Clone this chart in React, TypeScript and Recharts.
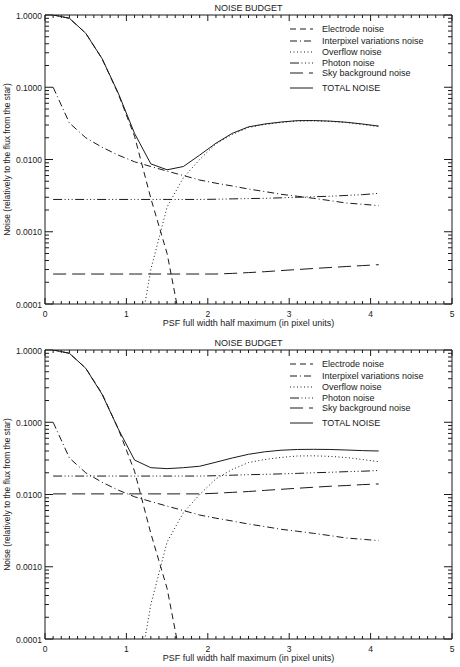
import { LineChart, Line, XAxis, YAxis, Legend } from "recharts";

// PSF full width half maximum, in pixels
const FWHM = [0.1, 0.3, 0.5, 0.7, 0.9, 1.1, 1.3, 1.5, 1.7, 1.9, 2.1, 2.3, 2.5, 2.7, 2.9, 3.1, 3.3, 3.5, 3.7, 3.9, 4.1];

// terms that are the same in both budgets
const ELECTRODE = [1.0, 0.9, 0.56, 0.25, 0.081, 0.021, 0.0029, 0.0005, 0.000034, null, null, null, null, null, null, null, null, null, null, null, null];
const INTERPIXEL = [0.1, 0.032, 0.02, 0.0148, 0.0115, 0.0093, 0.008, 0.0069, 0.006, 0.0052, 0.0047, 0.0043, 0.0039, 0.0036, 0.0033, 0.0031, 0.0029, 0.0027, 0.0025, 0.0024, 0.0023];
const OVERFLOW = [null, null, null, null, null, 0.000015, 0.0003, 0.0022, 0.0056, 0.01, 0.0165, 0.0222, 0.0277, 0.0305, 0.0326, 0.0341, 0.0343, 0.0337, 0.0325, 0.0305, 0.0285];

// upper budget
const PHOTON_A = [0.0028, 0.0028, 0.0028, 0.0028, 0.0028, 0.0028, 0.0028, 0.0028, 0.0028, 0.0028, 0.00282, 0.00285, 0.00288, 0.0029, 0.00295, 0.003, 0.00305, 0.0031, 0.00318, 0.00326, 0.0034];
const SKY_A = [0.00026, 0.00026, 0.00026, 0.00026, 0.00026, 0.00026, 0.00026, 0.00026, 0.00026, 0.00026, 0.00026, 0.000265, 0.000272, 0.00028, 0.00029, 0.0003, 0.00031, 0.00032, 0.00033, 0.00034, 0.00035];
const TOTAL_A = [1.005, 0.9, 0.56, 0.25, 0.083, 0.023, 0.0087, 0.0072, 0.008, 0.0115, 0.0168, 0.023, 0.0283, 0.031, 0.033, 0.0345, 0.0346, 0.034, 0.0328, 0.031, 0.029];

// lower budget
const PHOTON_B = [0.018, 0.018, 0.018, 0.018, 0.018, 0.018, 0.018, 0.018, 0.018, 0.018, 0.0182, 0.0185, 0.0188, 0.019, 0.0193, 0.0196, 0.02, 0.0203, 0.0207, 0.021, 0.0215];
const SKY_B = [0.0102, 0.0102, 0.0102, 0.0102, 0.0102, 0.0102, 0.0102, 0.0102, 0.0102, 0.0102, 0.0104, 0.0107, 0.011, 0.0114, 0.0118, 0.0122, 0.0126, 0.013, 0.0133, 0.0137, 0.014];
const TOTAL_B = [1.005, 0.9, 0.56, 0.245, 0.081, 0.03, 0.0235, 0.0228, 0.0235, 0.0246, 0.028, 0.032, 0.036, 0.039, 0.041, 0.042, 0.0422, 0.042, 0.0413, 0.0405, 0.04];

const X_TICKS = [0, 1, 2, 3, 4, 5];
const Y_TICKS = [0.0001, 0.001, 0.01, 0.1, 1];

const TITLE = "NOISE BUDGET";
const X_LABEL = "PSF full width half maximum (in pixel units)";
const Y_LABEL = "Noise (relatively to the flux from the star)";

const SERIES = [
  { key: "electrode", name: "Electrode noise", dash: "6 4" },
  { key: "interpixel", name: "Interpixel variations noise", dash: "7 3 1 3" },
  { key: "overflow", name: "Overflow noise", dash: "1 2.5" },
  { key: "photon", name: "Photon noise", dash: "9 2.5 1 2.5 1 2.5 1 2.5" },
  { key: "sky", name: "Sky background noise", dash: "13 6" },
  { key: "total", name: "TOTAL NOISE", dash: undefined },
];

const FONT = "'Liberation Sans', Arial, sans-serif";
const INK = "#1a1a1a";

// minor tick positions: every 0.1 on x, 1..9 per decade on y
const X_MINOR = Array.from({ length: 51 }, (_, i) => Number((i * 0.1).toFixed(1)));
const Y_MINOR = [
  ...Y_TICKS.slice(0, -1).flatMap((d) => [1, 2, 3, 4, 5, 6, 7, 8, 9].map((k) => Number((d * k).toPrecision(3)))),
  1,
];

const isMajorX = (v: number) => X_TICKS.includes(v);
const isMajorY = (v: number) => Math.abs(Math.log10(v) - Math.round(Math.log10(v))) < 1e-6;

const makeRows = (photon: number[], sky: number[], total: number[]) =>
  FWHM.map((x, i) => ({
    x,
    electrode: ELECTRODE[i],
    interpixel: INTERPIXEL[i],
    overflow: OVERFLOW[i],
    photon: photon[i],
    sky: sky[i],
    total: total[i],
  }));

const ROWS_A = makeRows(PHOTON_A, SKY_A, TOTAL_A);
const ROWS_B = makeRows(PHOTON_B, SKY_B, TOTAL_B);

interface TickProps { x?: number; y?: number; payload?: { value: number }; }

const BottomTick = ({ x = 0, y = 0, payload }: TickProps) => {
  const v = payload?.value ?? 0;
  const major = isMajorX(v);
  return (
    <g>
      <line x1={x} x2={x} y1={y} y2={y - (major ? 6 : 3)} stroke={INK} />
      {major && (
        <text x={x} y={y + 13} textAnchor="middle" fontSize={8.5} fontFamily={FONT} fill={INK}>
          {v}
        </text>
      )}
    </g>
  );
};

const TopTick = ({ x = 0, y = 0, payload }: TickProps) => {
  const major = isMajorX(payload?.value ?? 0);
  return <line x1={x} x2={x} y1={y} y2={y + (major ? 6 : 3)} stroke={INK} />;
};

const LeftTick = ({ x = 0, y = 0, payload }: TickProps) => {
  const v = payload?.value ?? 1;
  const major = isMajorY(v);
  return (
    <g>
      <line x1={x} x2={x + (major ? 8 : 4)} y1={y} y2={y} stroke={INK} />
      {major && (
        <text x={x - 3} y={y + 3.5} textAnchor="end" fontSize={8.5} fontFamily={FONT} fill={INK}>
          {v.toFixed(4)}
        </text>
      )}
    </g>
  );
};

const RightTick = ({ x = 0, y = 0, payload }: TickProps) => {
  const major = isMajorY(payload?.value ?? 1);
  return <line x1={x} x2={x - (major ? 8 : 4)} y1={y} y2={y} stroke={INK} />;
};

const ROW_Y = [7, 19, 30, 41, 51, 66];

const NoiseLegend = () => (
  <svg width={172} height={72}>
    {SERIES.map((s, i) => (
      <g key={s.key}>
        <line x1={4} x2={27} y1={ROW_Y[i]} y2={ROW_Y[i]} stroke={INK} strokeDasharray={s.dash} />
        <text x={36} y={ROW_Y[i] + 3} fontSize={9} fontFamily={FONT} fill={INK}>
          {s.name}
        </text>
      </g>
    ))}
  </svg>
);

interface PanelProps { top: number; height: number; rows: ReturnType<typeof makeRows>; }

const Panel = ({ top, height, rows }: PanelProps) => (
  <div style={{ position: "absolute", left: 0, top, width: 460, height }}>
    <LineChart width={460} height={height} data={rows} margin={{ top: 14, right: 7, bottom: 1, left: 2 }}>
      <XAxis
        xAxisId="b"
        dataKey="x"
        type="number"
        domain={[0, 5]}
        allowDataOverflow
        ticks={X_MINOR}
        interval={0}
        tick={<BottomTick />}
        tickLine={false}
        tickSize={0}
        tickMargin={0}
        height={height - 305}
        axisLine={{ stroke: INK }}
      />
      <XAxis
        xAxisId="t"
        orientation="top"
        dataKey="x"
        type="number"
        domain={[0, 5]}
        allowDataOverflow
        ticks={X_MINOR}
        interval={0}
        tick={<TopTick />}
        tickLine={false}
        tickSize={0}
        tickMargin={0}
        height={1}
        axisLine={{ stroke: INK }}
      />
      <YAxis
        yAxisId="l"
        scale="log"
        type="number"
        domain={[0.0001, 1]}
        allowDataOverflow
        ticks={Y_MINOR}
        interval={0}
        tick={<LeftTick />}
        tickLine={false}
        tickSize={0}
        tickMargin={0}
        width={43}
        axisLine={{ stroke: INK }}
      />
      <YAxis
        yAxisId="r"
        orientation="right"
        scale="log"
        type="number"
        domain={[0.0001, 1]}
        allowDataOverflow
        ticks={Y_MINOR}
        interval={0}
        tick={<RightTick />}
        tickLine={false}
        tickSize={0}
        tickMargin={0}
        width={1}
        axisLine={{ stroke: INK }}
      />
      {SERIES.map((s) => (
        <Line
          key={s.key}
          xAxisId="b"
          yAxisId="l"
          type="linear"
          dataKey={s.key}
          name={s.name}
          stroke={INK}
          strokeWidth={1}
          strokeDasharray={s.dash}
          dot={false}
          activeDot={false}
          isAnimationActive={false}
        />
      ))}
      <Legend
        layout="vertical"
        align="center"
        verticalAlign="middle"
        wrapperStyle={{ top: 22, left: 286, width: 172, height: 72 }}
        content={() => <NoiseLegend />}
      />
    </LineChart>
    <svg
      width={460}
      height={height}
      style={{ position: "absolute", left: 0, top: 0, pointerEvents: "none" }}
    >
      <text x={248.5} y={11} textAnchor="middle" fontSize={9} fontFamily={FONT} fill={INK}>
        {TITLE}
      </text>
      <text x={248.5} y={326} textAnchor="middle" fontSize={9} fontFamily={FONT} fill={INK}>
        {X_LABEL}
      </text>
      <text
        transform="translate(10, 159.5) rotate(-90)"
        textAnchor="middle"
        fontSize={8.5}
        fontFamily={FONT}
        fill={INK}
      >
        {Y_LABEL}
      </text>
    </svg>
  </div>
);

export default function App() {
  return (
    <div style={{ position: "absolute", left: 0, top: 0, width: 460, height: 667, background: "#fff" }}>
      <Panel top={0} height={335} rows={ROWS_A} />
      <Panel top={335} height={332} rows={ROWS_B} />
    </div>
  );
}
